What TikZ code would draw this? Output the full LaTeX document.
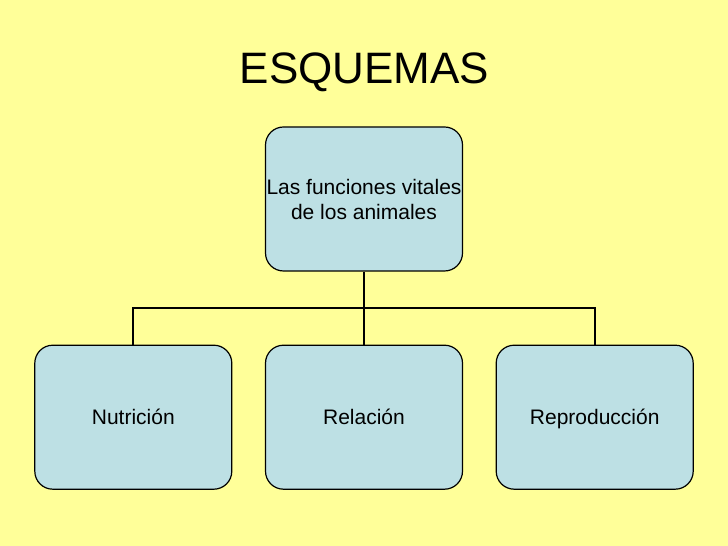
\documentclass[tikz,border=0pt]{standalone}
\usepackage{fontspec}
\setmainfont{Liberation Sans}
\usetikzlibrary{positioning}
\definecolor{slideyellow}{RGB}{255,255,153}
\definecolor{boxblue}{RGB}{189,224,228}

\begin{document}
\begin{tikzpicture}[x=1pt, y=1pt,
                    every node/.append style={font=\fontsize{21}{25}\selectfont},
                    titlelabel/.style={font=\fontsize{44}{50}\selectfont},
                    box/.style={rectangle, draw, fill=boxblue, line width=1.2pt, rounded corners=18pt,
                                inner xsep=0pt, minimum width=197pt, minimum height=144pt, align=center},
                    lowbox/.style={box, text height=15pt, text depth=0pt},
                    every path/.append style={line width=2pt},
                    node distance=32.5pt]
    % Background of the slide
    \fill [slideyellow] (0,0) rectangle (728,546);
    \useasboundingbox (0,0) rectangle (728,546);

    \node [titlelabel, anchor=base] (title) at (364.5,462) {ESQUEMAS};

    \node [box] (funciones) at (364,347) {Las funciones vitales\\de los animales};

    % Branch point between the levels
    \coordinate [below=36.5pt of funciones] (branch);

    \node [lowbox, below=73pt of funciones] (relacion) {Relación};
    \node [lowbox, left=of relacion] (nutricion) {Nutrición};
    \node [lowbox, right=of relacion] (reproduccion) {Reproducción};

    % Draw the lines
    \draw (funciones.south) -- (branch);
    \draw (branch)          -- (relacion.north);
    \draw (nutricion.north) |- (branch) -| (reproduccion.north);
\end{tikzpicture}
\end{document}
